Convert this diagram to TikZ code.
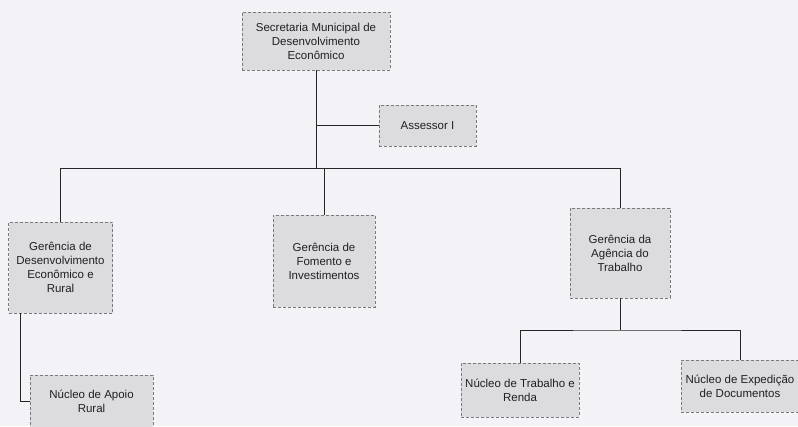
\documentclass[tikz,border=0pt]{standalone}
\usepackage{fontspec}
\setmainfont{Liberation Sans}
\definecolor{paper}{HTML}{F3F3F7}
\definecolor{boxfill}{HTML}{DCDCDF}
\definecolor{boxedge}{HTML}{7A7A7E}
\definecolor{ink}{HTML}{202022}
\definecolor{wire}{HTML}{262628}
\begin{document}
\begin{tikzpicture}[x=1pt,y=-1pt,
  unit/.style={draw=boxedge, densely dashed, line width=0.5pt, fill=boxfill,
    text=ink, align=center, inner sep=2pt,
    font=\fontsize{11.5}{14}\selectfont},
  wirestyle/.style={draw=wire, line width=0.9pt}]
  % page and background
  \fill[paper] (0,0) rectangle (798,426);
  \useasboundingbox (0,0) rectangle (798,426);

  % units
  \node[unit, minimum width=148pt, minimum height=58pt] (sec) at (316,41)
    {Secretaria Municipal de\\Desenvolvimento\\Econômico};
  \node[unit, minimum width=97pt, minimum height=41pt] (ass) at (427.5,125.5)
    {Assessor I};
  \node[unit, minimum width=104pt, minimum height=91pt] (ger1) at (60.5,267.5)
    {Gerência de\\Desenvolvimento\\Econômico e\\Rural};
  \node[unit, minimum width=102pt, minimum height=92pt] (ger2) at (324,261)
    {Gerência de\\Fomento e\\Investimentos};
  \node[unit, minimum width=100pt, minimum height=90pt] (ger3) at (620,253)
    {Gerência da\\Agência do\\Trabalho};
  \node[unit, minimum width=118pt, minimum height=54pt] (trab) at (520,390)
    {Núcleo de Trabalho e\\Renda};
  \node[unit, minimum width=118pt, minimum height=52pt] (exp) at (740,386)
    {Núcleo de Expedição\\de Documentos};
  \node[unit, minimum width=123pt, minimum height=52pt] (apoio) at (91.5,401)
    {Núcleo de Apoio\\Rural};

  % routing points
  \coordinate (bus) at (324,168);
  \coordinate (subbus) at (624,330);
  \coordinate (lcorner) at (20,403);

  % connectors
  \draw[wirestyle] (sec.south) -- (sec.south |- bus);
  \draw[wirestyle] (sec.south |- ass.west) -- (ass.west);
  \draw[wirestyle] (ger1.north) -- (ger1.north |- bus) -| (ger3.north);
  \draw[wirestyle] (ger2.north) -- (ger2.north |- bus);
  \draw[wirestyle] (ger3.south) -- (ger3.south |- subbus);
  \draw[wirestyle] (trab.north) |- (subbus) -| (exp.north);
  \draw[wirestyle] (ger1.south -| lcorner) |- (apoio.west);
\end{tikzpicture}
\end{document}
